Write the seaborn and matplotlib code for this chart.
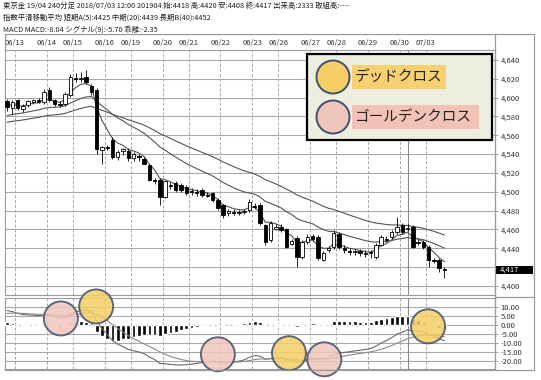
import numpy as np
import pandas as pd
import matplotlib
matplotlib.use("Agg")
import matplotlib.pyplot as plt
from matplotlib.patches import Circle, Rectangle
from matplotlib.transforms import blended_transform_factory
import seaborn as sns

# ==========================================================
# DATA (240-minute candles, Tokyo gold 19/04)
# ==========================================================

opens = [4596, 4589, 4597, 4588, 4592, 4595, 4597, 4595, 4608, 4597,
         4593, 4593, 4603, 4621, 4620, 4622, 4612, 4608, 4544, 4548,
         4555, 4537, 4543, 4543, 4536, 4538, 4535, 4528, 4513, 4513,
         4495, 4507, 4509, 4507, 4505, 4501, 4500, 4502, 4497, 4499,
         4491, 4486, 4478, 4479, 4478, 4479, 4481, 4485, 4486, 4465,
         4449, 4461, 4463, 4460, 4445, 4451, 4431, 4447, 4453, 4452,
         4428, 4438, 4441, 4455, 4440, 4437, 4436, 4437, 4435, 4436,
         4431, 4444, 4450, 4452, 4457, 4465, 4460, 4463, 4447, 4447,
         4441, 4428, 4428, 4418]
highs = [4599, 4597, 4599, 4593, 4598, 4599, 4600, 4609, 4611, 4599,
         4596, 4606, 4625, 4626, 4627, 4629, 4614, 4610, 4549, 4550,
         4558, 4544, 4547, 4546, 4542, 4540, 4537, 4530, 4515, 4515,
         4512, 4510, 4511, 4509, 4507, 4504, 4503, 4504, 4500, 4500,
         4493, 4487, 4482, 4482, 4481, 4482, 4492, 4488, 4488, 4466,
         4469, 4466, 4466, 4462, 4450, 4453, 4449, 4455, 4455, 4454,
         4437, 4442, 4459, 4457, 4443, 4440, 4439, 4439, 4438, 4438,
         4446, 4454, 4453, 4459, 4473, 4467, 4466, 4465, 4450, 4449,
         4443, 4430, 4430, 4420]
lows = [4586, 4582, 4587, 4585, 4590, 4593, 4594, 4593, 4595, 4591,
        4590, 4591, 4601, 4617, 4617, 4615, 4603, 4540, 4530, 4544,
        4535, 4534, 4539, 4533, 4533, 4533, 4529, 4511, 4508, 4486,
        4493, 4503, 4500, 4500, 4497, 4497, 4496, 4495, 4494, 4489,
        4481, 4472, 4474, 4475, 4475, 4476, 4479, 4482, 4465, 4444,
        4447, 4459, 4457, 4440, 4443, 4420, 4429, 4445, 4448, 4428,
        4426, 4436, 4439, 4439, 4435, 4433, 4433, 4432, 4431, 4430,
        4429, 4442, 4447, 4450, 4455, 4455, 4458, 4440, 4444, 4439,
        4420, 4424, 4415, 4408]
closes = [4590, 4595, 4589, 4591, 4596, 4597, 4595, 4606, 4597, 4593,
          4592, 4604, 4622, 4620, 4621, 4617, 4606, 4545, 4548, 4547,
          4537, 4542, 4545, 4536, 4540, 4537, 4530, 4513, 4511, 4495,
          4511, 4506, 4502, 4502, 4499, 4500, 4499, 4497, 4496, 4491,
          4483, 4475, 4480, 4478, 4479, 4480, 4489, 4484, 4467, 4447,
          4467, 4463, 4459, 4441, 4448, 4431, 4447, 4452, 4450, 4430,
          4435, 4440, 4456, 4441, 4438, 4436, 4437, 4435, 4434, 4435,
          4444, 4452, 4449, 4457, 4463, 4457, 4462, 4441, 4446, 4441,
          4428, 4426, 4419, 4417]

# first candle of each trading day and its label
day_start = [2, 8, 13, 19, 24, 30, 35, 41, 47, 52, 58, 63, 69, 75, 80]
day_labels = ["06/13", "06/14", "06/15", "06/16", "06/19", "06/20", "06/21",
              "06/22", "06/23", "06/26", "06/27", "06/28", "06/29", "06/30",
              "07/03"]

# moving average spans and their level at the left edge of the chart
ma_spans = [5, 20, 40]
ma_start = [4592, 4580, 4573]

# MACD settings and starting levels
macd_fast, macd_slow, macd_sig = 12, 26, 9
fast_start, slow_start, sig_start = 4595, 4586, 6.0

# crossover markers (candle index, MACD value, kind)
cross_idx = [10.2, 16.9, 40.0, 53.5, 60.2, 79.9]
cross_val = [3.6, 10.3, -16.4, -15.8, -19.2, -0.8]
cross_kind = ["golden", "dead", "golden", "dead", "golden", "dead"]

cursor_idx = 76

price_ticks = list(range(4400, 4641, 20))
macd_ticks = [10, 5, 0, -5, -10, -15, -20]

header = [
    "東京金 19/04 240分足 2018/07/03 12:00 201904 始:4418 高:4420 安:4408 終:4417 出来高:2333 取組高:----",
    "指数平滑移動平均 短期A(5):4425 中期(20):4439 長期B(40):4452",
    "MACD MACD:-8.04 シグナル(9):-5.70 乖離:-2.35",
]


def ema(values, span, start):
    alpha = 2 / (span + 1)
    out = []
    prev = start
    for v in values:
        prev = prev + alpha * (v - prev)
        out.append(prev)
    return np.array(out)


df = pd.DataFrame({"open": opens, "high": highs, "low": lows, "close": closes})
df["idx"] = np.arange(len(df))
for span, start in zip(ma_spans, ma_start):
    df[f"ema{span}"] = ema(df["close"], span, start)
df["macd"] = ema(df["close"], macd_fast, fast_start) - ema(df["close"], macd_slow, slow_start)
df["signal"] = ema(df["macd"], macd_sig, sig_start)
df["hist"] = df["macd"] - df["signal"]

# ==========================================================
# FIGURE
# ==========================================================

sns.set_theme(style="white")
plt.rcParams["font.family"] = ["Noto Sans CJK JP", "DejaVu Sans"]

W, H = 541, 380
fig = plt.figure(figsize=(W / 100, H / 100), dpi=100)


def rect(x0, y0, x1, y1):
    return [x0 / W, 1 - y1 / H, (x1 - x0) / W, (y1 - y0) / H]


ax = fig.add_axes(rect(5, 50, 495, 295))
ax2 = fig.add_axes(rect(5, 298, 495, 369))

frame = "#9a9a9a"
grid_c = "#a8a8a8"
xlim = (-0.4, 92.6)
day_lines = [d - 0.5 for d in day_start]

for a in (ax, ax2):
    a.set_xlim(*xlim)
    a.set_facecolor("white")
    for s in a.spines.values():
        s.set_color(frame)
        s.set_linewidth(0.8)
    a.set_xticks(day_lines)
    a.yaxis.tick_right()
    a.tick_params(axis="y", length=2, width=0.6, color=frame, pad=2,
                  labelsize=5.5, labelcolor="#333333")
    a.set_axisbelow(True)

# ---------- price panel ----------
ax.set_ylim(4390.4, 4650.6)
ax.set_yticks(price_ticks)
ax.set_yticklabels(["" if v == 4420 else f"{v:,}" for v in price_ticks])
ax.xaxis.tick_top()
ax.set_xticklabels(day_labels)
ax.tick_params(axis="x", length=0, pad=2, labelsize=5.5, labelcolor="#333333")

for span in ma_spans:
    sns.lineplot(data=df, x="idx", y=f"ema{span}", ax=ax, color="#555555",
                 linewidth=0.8, legend=False, zorder=2)

up = df["close"] >= df["open"]
ax.vlines(df["idx"], df["low"], df["high"], color="black", linewidth=0.6, zorder=3)
body = (df["close"] - df["open"]).abs().clip(lower=0.8)
ax.bar(df["idx"], body, bottom=df[["open", "close"]].min(axis=1), width=0.65,
       color=np.where(up, "white", "black"), edgecolor="black", linewidth=0.6,
       zorder=4)

# last price tag on the right scale
last = closes[-1]
tr = blended_transform_factory(ax.transAxes, ax.transData)
ax.add_patch(Rectangle((1.002, last - 4.3), 0.076, 8.6, transform=tr,
                       facecolor="black", edgecolor="none", clip_on=False, zorder=6))
ax.text(1.01, last, f"{last:,}", transform=tr, color="white", fontsize=5.5,
        va="center", ha="left", zorder=7, clip_on=False)

# ---------- MACD panel ----------
ax2.set_ylim(-24.6, 15)
ax2.set_yticks(macd_ticks)
ax2.set_yticklabels([f"{v:.2f}" for v in macd_ticks])
ax2.tick_params(axis="x", length=0, labelbottom=False)
ax2.bar(df["idx"], df["hist"], width=0.7, color="black", zorder=3)
sns.lineplot(data=df, x="idx", y="macd", ax=ax2, color="#6a6a6a",
             linewidth=0.8, legend=False, zorder=4)
sns.lineplot(data=df, x="idx", y="signal", ax=ax2, color="#8a8a8a",
             linewidth=0.8, legend=False, zorder=4)

# grids and cursor line (after seaborn so nothing resets them)
for a in (ax, ax2):
    a.set_xlabel("")
    a.set_ylabel("")
    a.grid(False)
    for d in day_lines:
        a.axvline(d, color=grid_c, linestyle=(0, (3, 2)), linewidth=0.7, zorder=0.5)
    lo, hi = a.get_ylim()
    for t in a.get_yticks():
        if lo < t < hi:
            a.axhline(t, color=grid_c, linestyle="-", linewidth=0.8, zorder=0.5)
    a.axvline(cursor_idx, color="#8a8a8a", linewidth=0.8, zorder=1)

# ---------- overlay: frames, header, circles, legend box ----------
ov = fig.add_axes([0, 0, 1, 1])
ov.set_xlim(0, W)
ov.set_ylim(H, 0)
ov.axis("off")
ov.patch.set_alpha(0)

for xs, ys in [([5, 534], [34, 34]), ([534, 534], [34, 370]),
               ([495, 495], [34, 370]), ([5, 5], [34, 50]),
               ([5, 534], [370, 370]), ([495, 534], [296.5, 296.5])]:
    ov.plot(xs, ys, color=frame, linewidth=0.9)

for k, line in enumerate(header):
    ov.text(3, 6 + 12 * k, line, fontsize=5.3, color="#222222", va="center", ha="left")

yellow = "#F5CF66"
pink = "#F0C6BC"
edge = "#41506E"
to_ov = ov.transData.inverted()
for xi, vi, kind in zip(cross_idx, cross_val, cross_kind):
    px, py = to_ov.transform(ax2.transData.transform((xi, vi)))
    ov.add_patch(Circle((px, py), 17, facecolor=yellow if kind == "dead" else pink,
                        edgecolor=edge, linewidth=1.4, alpha=0.85))

ov.add_patch(Rectangle((307, 54), 185, 86, facecolor="#EDEEE0",
                       edgecolor="black", linewidth=1.6))
ov.add_patch(Rectangle((352, 65), 94, 24, facecolor="#F7D070", edgecolor="none"))
ov.add_patch(Rectangle((352, 105), 127, 24, facecolor="#F2C2B6", edgecolor="none"))
ov.add_patch(Circle((333, 77), 16.5, facecolor=yellow, edgecolor=edge, linewidth=1.4))
ov.add_patch(Circle((333, 117), 16.5, facecolor=pink, edgecolor=edge, linewidth=1.4))
ov.text(355, 77, "デッドクロス", fontsize=10.5, color="#222222", va="center", ha="left")
ov.text(355, 117, "ゴールデンクロス", fontsize=10.5, color="#222222", va="center", ha="left")

fig.savefig("out.png", dpi=100)
